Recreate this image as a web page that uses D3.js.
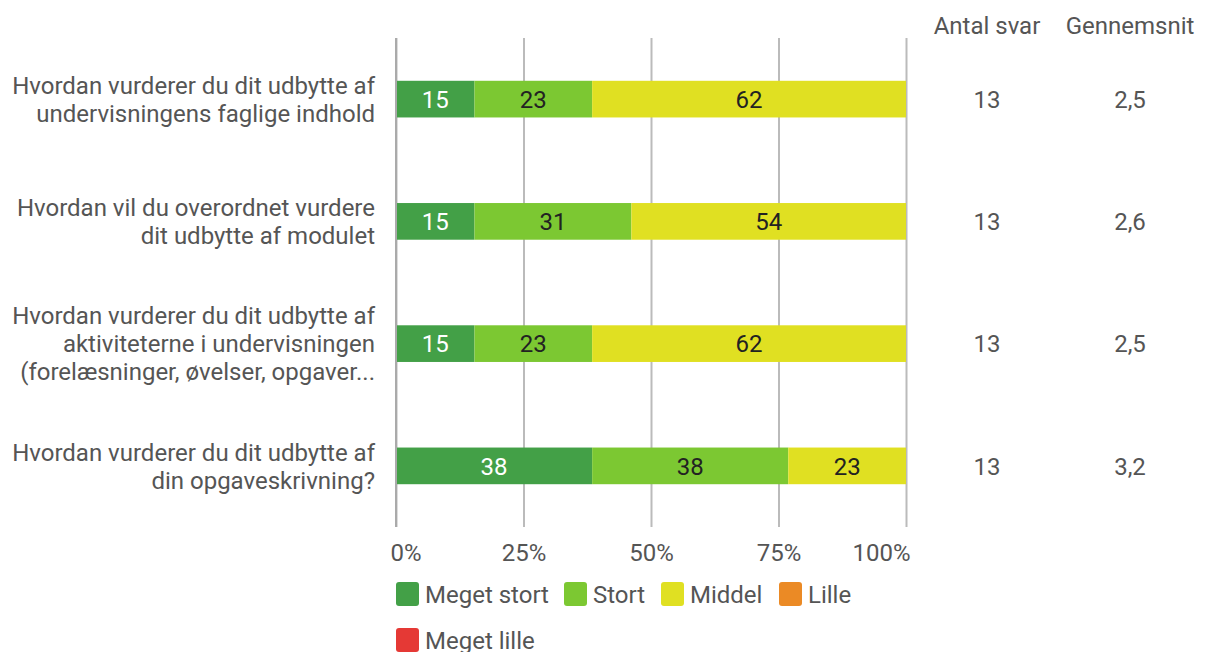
<!DOCTYPE html>
<html>
<head>
<meta charset="utf-8">
<script src="https://cdn.jsdelivr.net/npm/d3@7"></script>
<style>
  body { margin: 0; background: #fff; }
  svg { font-family: Roboto, "Noto Sans", sans-serif; }
</style>
</head>
<body>
<svg id="chart" width="1208" height="652"></svg>
<script>
/* data: number of answers per category (13 answers per question) */
var questions = [
  ["Hvordan vurderer du dit udbytte af", "undervisningens faglige indhold"],
  ["Hvordan vil du overordnet vurdere", "dit udbytte af modulet"],
  ["Hvordan vurderer du dit udbytte af", "aktiviteterne i undervisningen", "(forelæsninger, øvelser, opgaver..."],
  ["Hvordan vurderer du dit udbytte af", "din opgaveskrivning?"]
];
var categories = ["Meget stort", "Stort", "Middel", "Lille", "Meget lille"];
var colors = ["#43a047", "#7cc832", "#e0e022", "#eb8a25", "#e53935"];
var meget_stort = [2, 2, 2, 5];
var stort = [3, 4, 3, 5];
var middel = [8, 7, 8, 3];
var lille = [0, 0, 0, 0];
var meget_lille = [0, 0, 0, 0];
var antalSvar = [13, 13, 13, 13];
var gennemsnit = ["2,5", "2,6", "2,5", "3,2"];
var xTicks = [0, 25, 50, 75, 100];

var series = [meget_stort, stort, middel, lille, meget_lille];

/* settings */
var margin = { top: 38, bottom: 527, left: 396, right: 906 },
    fontSize = 24,
    textColor = "#555";

var svg = d3.select("#chart");

var xScale = d3.scaleLinear().domain([0, 100]).range([margin.left, margin.right]);
var yScale = d3.scaleBand().domain(d3.range(questions.length))
    .range([margin.top, margin.bottom]).paddingInner(0.7).paddingOuter(0.35);

/* grid + x labels */
var xAxis = d3.axisBottom(xScale).tickValues(xTicks)
    .tickSize(margin.bottom - margin.top)
    .tickFormat(function(d){ return d + "%"; });
var axisG = svg.append("g")
    .attr("transform", "translate(0," + margin.top + ")")
    .call(xAxis);
axisG.select(".domain").remove();
axisG.selectAll(".tick line").attr("stroke", "#bbb").attr("stroke-width", 2);
axisG.selectAll(".tick text")
    .attr("y", margin.bottom - margin.top + 25)
    .attr("dy", "0.36em")
    .attr("fill", textColor)
    .style("font-size", fontSize + "px")
    .style("font-family", "Roboto")
    .attr("text-anchor", function(d, i){ return i == 0 ? "start" : (i == xTicks.length - 1 ? "end" : "middle"); })
    .attr("dx", function(d, i){ return i == 0 ? -6 : (i == xTicks.length - 1 ? 4 : 0); });

/* stacked bars, in percent of the answers */
var rows = questions.map(function(q, i){
  var obj = { i: i };
  categories.forEach(function(c, k){ obj[c] = series[k][i] / antalSvar[i] * 100; });
  return obj;
});
var stack = d3.stack().keys(categories)(rows);

var layers = svg.append("g").selectAll("g")
  .data(stack)
  .enter().append("g")
    .attr("fill", function(d, k){ return colors[k]; });

layers.selectAll("rect")
  .data(function(d){ return d; })
  .enter().append("rect")
    .attr("x", function(d){ return xScale(d[0]); })
    .attr("y", function(d){ return yScale(d.data.i); })
    .attr("width", function(d){ return xScale(d[1]) - xScale(d[0]); })
    .attr("height", yScale.bandwidth());

layers.each(function(layer, k){
  d3.select(this).selectAll("text")
    .data(layer.filter(function(d){ return d[1] - d[0] > 0; }))
    .enter().append("text")
      .attr("x", function(d){ return (xScale(d[0]) + xScale(d[1])) / 2; })
      .attr("y", function(d){ return yScale(d.data.i) + yScale.bandwidth() / 2; })
      .attr("dy", "0.36em")
      .attr("text-anchor", "middle")
      .attr("fill", k == 0 ? "#fff" : "#222")
      .style("font-size", fontSize + "px")
      .text(function(d){ return Math.round(d[1] - d[0]); });
});

/* left axis line */
svg.append("line")
    .attr("x1", margin.left).attr("x2", margin.left)
    .attr("y1", margin.top).attr("y2", margin.bottom)
    .attr("stroke", "#aaa").attr("stroke-width", 2);

/* question labels */
var lineH = 28;
svg.append("g").selectAll("text")
  .data(questions)
  .enter().append("text")
    .attr("text-anchor", "end")
    .attr("fill", textColor)
    .style("font-size", fontSize + "px")
    .each(function(q, i){
      var cy = yScale(i) + yScale.bandwidth() / 2;
      var y0 = cy - (q.length - 1) * lineH / 2;
      d3.select(this).selectAll("tspan")
        .data(q)
        .enter().append("tspan")
          .attr("x", 375)
          .attr("y", function(d, j){ return y0 + j * lineH; })
          .attr("dy", "0.36em")
          .text(function(d){ return d; });
    });

/* extra columns */
var colX = [987, 1130];
var headers = ["Antal svar", "Gennemsnit"];
svg.append("g").selectAll("text")
  .data(headers)
  .enter().append("text")
    .attr("x", function(d, i){ return colX[i]; })
    .attr("y", 25)
    .attr("dy", "0.36em")
    .attr("text-anchor", "middle")
    .attr("fill", textColor)
    .style("font-size", fontSize + "px")
    .text(function(d){ return d; });

[antalSvar, gennemsnit].forEach(function(col, c){
  svg.append("g").selectAll("text")
    .data(col)
    .enter().append("text")
      .attr("x", colX[c])
      .attr("y", function(d, i){ return yScale(i) + yScale.bandwidth() / 2; })
      .attr("dy", "0.36em")
      .attr("text-anchor", "middle")
      .attr("fill", textColor)
      .style("font-size", fontSize + "px")
      .text(function(d){ return d; });
});

/* legend */
var legendPos = [[396, 594], [564, 594], [661, 594], [779, 594], [396, 640]];
var legend = svg.append("g").selectAll("g")
  .data(categories)
  .enter().append("g")
    .attr("transform", function(d, i){ return "translate(" + legendPos[i][0] + "," + legendPos[i][1] + ")"; });
legend.append("rect")
    .attr("x", 0).attr("y", -12)
    .attr("width", 23).attr("height", 24)
    .attr("rx", 3)
    .attr("fill", function(d, i){ return colors[i]; });
legend.append("text")
    .attr("x", 29)
    .attr("dy", "0.36em")
    .attr("fill", textColor)
    .style("font-size", fontSize + "px")
    .text(function(d){ return d; });
</script>
</body>
</html>
